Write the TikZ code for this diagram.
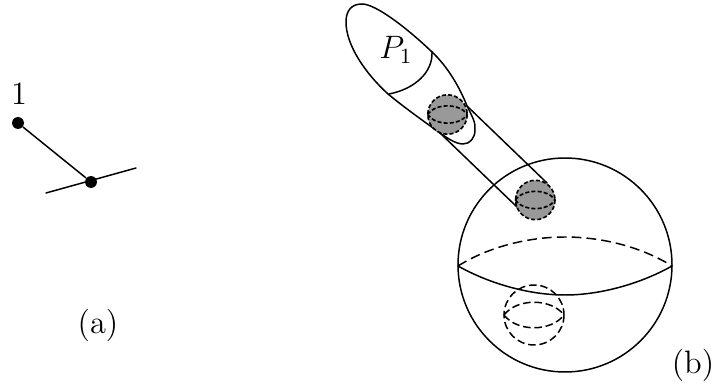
\documentclass[tikz,border=0pt]{standalone}
\begin{document}
\begin{tikzpicture}[x=0.37pt,y=-0.37pt,
  line/.style={line width=0.55pt,line cap=round},
  dot/.style={circle,fill=black,inner sep=0pt,minimum size=4.4pt},
  longdash/.style={line width=0.55pt,dash pattern=on 3.6pt off 1.9pt},
  meddash/.style={line width=0.55pt,dash pattern=on 2.8pt off 1.4pt},
  shortdash/.style={line width=0.6pt,dash pattern=on 1.5pt off 0.8pt},
  lab/.style={inner sep=0pt,font=\fontsize{12}{14}\selectfont}]
\useasboundingbox (0,0) rectangle (713,387);
% panel (a)
\node[dot] (one) at (18,123) {};
\node[dot] (mid) at (91,182) {};
\coordinate (wl) at (46,193);
\coordinate (wr) at (136,168);
\draw[line] (one) -- (mid);
\draw[line] (wl) -- (wr);
\node[lab] (lone) at (19,94) {1};
\node[lab] (la) at (98,325) {(a)};
% panel (b)
\draw[line] (362,4) .. controls (376,4) and (408,29) .. (432,52)
  .. controls (448,67) and (460,88) .. (467,106)
  .. controls (472,116) and (476,123) .. (475,130)
  .. controls (475,138) and (470,144) .. (463,144)
  .. controls (456,144) and (447,138) .. (440,133)
  .. controls (422,120) and (405,108) .. (388,94)
  .. controls (365,73) and (346,45) .. (346,22)
  .. controls (346,10) and (352,4) .. cycle;
\draw[line] (432,52) .. controls (433,72) and (415,89) .. (389,94);
\node[lab] (p1) at (396,50) {$P_1$};
\draw[line] (467,106) -- (547,183);
\draw[line] (440,133) -- (517,207);
% big sphere
\draw[line] (565,265) circle [radius=107];
\draw[longdash] (458,266) .. controls (490,246) and (530,237) .. (565,237) .. controls (600,237) and (640,246) .. (672,266);
\draw[line] (458,266) .. controls (490,284) and (530,295) .. (565,295) .. controls (600,295) and (640,284) .. (672,266);
% gray balls
\foreach \cx/\cy in {447.5/114.5,535.3/200}{
  \fill[black!40] (\cx,\cy) circle [radius=19.7];
  \draw[shortdash] (\cx,\cy) circle [radius=19.7];
  \draw[shortdash] (\cx-20,\cy) .. controls (\cx-12,\cy-11.5) and (\cx+12,\cy-11.5) .. (\cx+20,\cy);
  \draw[shortdash] (\cx-20,\cy) .. controls (\cx-12,\cy+11.5) and (\cx+12,\cy+11.5) .. (\cx+20,\cy);
}
% dashed ball inside the sphere
\draw[meddash] (534,315) circle [radius=30];
\draw[meddash] (504,315) .. controls (517,298) and (551,298) .. (564,315);
\draw[meddash] (504,315) .. controls (517,332) and (551,332) .. (564,315);
\node[lab] (lb) at (693,365) {(b)};
\end{tikzpicture}
\end{document}
